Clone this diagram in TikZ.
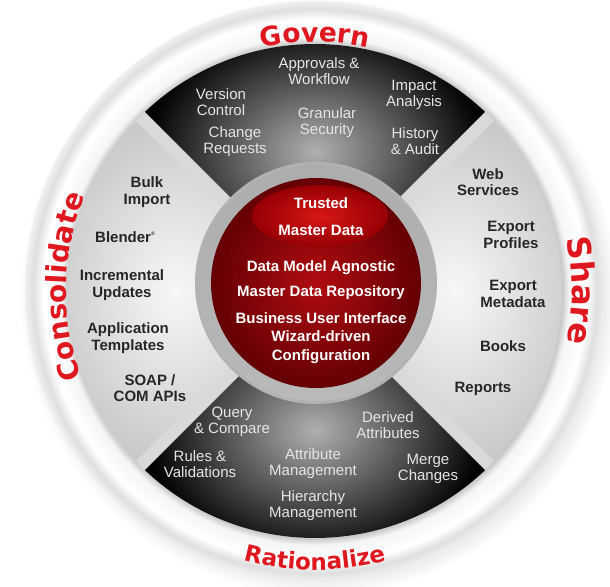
\documentclass[tikz,border=0pt]{standalone}
\usepackage{fontspec}
\setmainfont{Liberation Sans}
\newfontfamily\dejavu{DejaVu Sans}
\usetikzlibrary{decorations.text,shadows}

\definecolor{labelred}{RGB}{222,24,30}
\definecolor{diskred}{RGB}{176,12,16}
\definecolor{diskdark}{RGB}{100,0,4}
\definecolor{ovalred}{RGB}{216,22,22}
\definecolor{ovaldark}{RGB}{150,0,4}
\colorlet{ringcore}{gray!40}
\colorlet{ringshadow}{gray!50}
\colorlet{ringlight}{gray!8}
\colorlet{ringedge}{gray!25}
\colorlet{ringout}{gray!12}

\pgfdeclareradialshading{ringshade}{\pgfpoint{0bp}{0bp}}{%
  color(0bp)=(ringcore); color(21.2bp)=(ringshadow); color(21.9bp)=(ringlight);
  color(23.4bp)=(white); color(24.3bp)=(ringedge); color(25bp)=(ringout); color(50bp)=(white)}

\newcommand\redlabel[1]{\dejavu\bfseries\fontsize{#1}{#1}\selectfont}

\begin{document}
\begin{tikzpicture}[x=1pt, y=1pt,
    darkquad/.style={inner color=gray!62, outer color=black},
    lightquad/.style={inner color=gray!6, outer color=gray!42},
    quadtext/.style={align=center, inner sep=0pt, font=\fontsize{15}{16}\selectfont},
    darktext/.style={quadtext, text=gray!20},
    lighttext/.style={quadtext, font=\fontsize{15}{16.5}\selectfont\bfseries, text=black!85},
    disktext/.style={align=center, inner sep=0pt, text=white, font=\fontsize{15}{18.5}\selectfont\bfseries},
    ringlabel/.style={decorate, decoration={text along path, text align=center, text color=labelred, text={#1}}}]
  \useasboundingbox (-315,-295) rectangle (295,291);

  % outer ring and the four quarters
  \shade[shading=ringshade, circular drop shadow={shadow xshift=4pt, shadow yshift=-5pt, shadow scale=1.03, opacity=.4}] (0,0) circle (290);
  \fill[gray!30] (0,0) circle (247);
  \foreach \a/\kind in {90/darkquad, 270/darkquad, 0/lightquad, 180/lightquad}{
    \shade[\kind] (\a:9.2) -- (\a-43.5:247) arc[start angle=\a-43.5, end angle=\a+43.5, radius=247] -- cycle;
  }

  % hub
  \fill[gray!60] (1,8) circle (121);
  \shade[top color=gray!65, middle color=white, bottom color=gray!55] (1,8) circle (118);
  \shade[inner color=diskred, outer color=diskdark] (1,8) circle (105);
  \shade[inner color=ovalred, outer color=ovaldark] (5,75) ellipse [x radius=68, y radius=31];

  \node[disktext] (trusted) at (6,88) {Trusted};
  \node[disktext] (masterdata) at (6,61) {Master Data};
  \node[disktext] (agnostic) at (6,23) {Data Model Agnostic};
  \node[disktext] (repository) at (6,-2) {Master Data Repository};
  \node[disktext] (interface) at (6,-47) {Business User Interface\\Wizard-driven\\Configuration};

  % govern
  \node[darktext] (approvals) at (4,220) {Approvals \&\\Workflow};
  \node[darktext] (version) at (-94,189) {Version\\Control};
  \node[darktext] (granular) at (12,168) {Granular\\Security};
  \node[darktext] (impact) at (99,196) {Impact\\Analysis};
  \node[darktext] (change) at (-80,149) {Change\\Requests};
  \node[darktext] (history) at (100,150) {History\\\& Audit};

  % consolidate
  \node[lighttext] (bulk) at (-168,99) {Bulk\\Import};
  \node[lighttext] (blender) at (-190,54) {Blender\raisebox{.9ex}{\fontsize{5}{5}\selectfont ®}};
  \node[lighttext] (incremental) at (-193,6) {Incremental\\Updates};
  \node[lighttext] (templates) at (-187,-47) {Application\\Templates};
  \node[lighttext] (soap) at (-165,-97) {SOAP /\\COM APIs};

  % share
  \node[lighttext] (web) at (173,109) {Web\\Services};
  \node[lighttext] (profiles) at (196,56) {Export\\Profiles};
  \node[lighttext] (metadata) at (198,-3) {Export\\Metadata};
  \node[lighttext] (books) at (188,-55) {Books};
  \node[lighttext] (reports) at (168,-98) {Reports};

  % rationalize
  \node[darktext] (query) at (-83,-131) {Query\\\& Compare};
  \node[darktext] (derived) at (73,-134) {Derived\\Attributes};
  \node[darktext] (rules) at (-115,-173) {Rules \&\\Validations};
  \node[darktext] (attribute) at (-2,-173) {Attribute\\Management};
  \node[darktext] (merge) at (113,-178) {Merge\\Changes};
  \node[darktext] (hierarchy) at (-2,-215) {Hierarchy\\Management};

  % ring words
  \path[ringlabel={|\redlabel{26.5}|Govern}] (120:249) arc[start angle=120, end angle=60, radius=249];
  \path[ringlabel={|\redlabel{32}|Share}] (20:257) arc[start angle=20, end angle=-20, radius=257];
  \path[ringlabel={|\redlabel{23}|Rationalize}] (240:279) arc[start angle=240, end angle=300, radius=279];
  \path[ringlabel={|\redlabel{28}|Consolidate}] (199:249) arc[start angle=199, end angle=159, radius=249];
\end{tikzpicture}
\end{document}
